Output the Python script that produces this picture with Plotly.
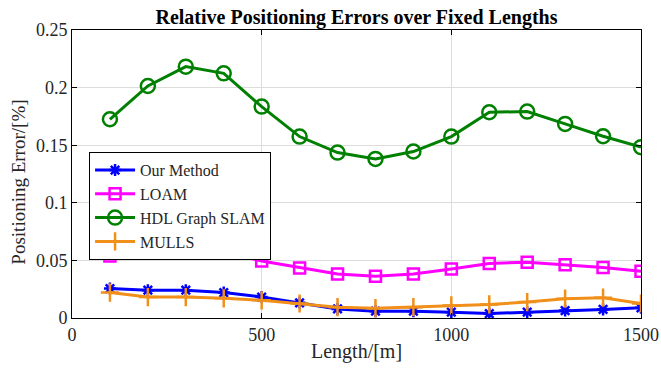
import plotly.graph_objects as go

# Data
lengths = [100, 200, 300, 400, 500, 600, 700, 800, 900, 1000, 1100, 1200, 1300, 1400, 1500]

our_method = [0.0256, 0.0241, 0.0241, 0.0221, 0.0182, 0.0132, 0.0079, 0.0059, 0.0059,
              0.0050, 0.0038, 0.0050, 0.0065, 0.0074, 0.0088]
loam = [0.0538, 0.0574, 0.0591, 0.0574, 0.0494, 0.0435, 0.0382, 0.0362, 0.0382,
        0.0426, 0.0474, 0.0485, 0.0462, 0.0438, 0.0406]
hdl_graph_slam = [0.1725, 0.2014, 0.2182, 0.2124, 0.1835, 0.1575, 0.1436, 0.1381, 0.1445,
                  0.1575, 0.1786, 0.1792, 0.1685, 0.1578, 0.1483]
mulls = [0.0221, 0.0182, 0.0182, 0.0171, 0.0153, 0.0126, 0.0094, 0.0085, 0.0094,
         0.0109, 0.0118, 0.0138, 0.0168, 0.0176, 0.0126]

x_ticks = [0, 500, 1000, 1500]
y_ticks = [0, 0.05, 0.1, 0.15, 0.2, 0.25]
y_tick_text = ["0", "0.05", "0.1", "0.15", "0.2", "0.25"]

FONT = "Liberation Serif"
TEXT_GREY = "#262626"
W, H = 661, 369

series = [
    ("Our Method", our_method, "#0000FF", "asterisk-open", 10),
    ("LOAM", loam, "#FF00FF", "square-open", 11),
    ("HDL Graph SLAM", hdl_graph_slam, "#008000", "circle-open", 14),
    ("MULLS", mulls, "#F0901A", "cross-thin-open", 13),
]

fig = go.Figure()
for name, vals, color, symbol, size in series:
    fig.add_trace(go.Scatter(
        x=lengths, y=vals, name=name, mode="lines+markers",
        line=dict(color=color, width=3),
        marker=dict(symbol=symbol, size=size, color=color,
                    line=dict(color=color, width=2.5)),
    ))

axis_common = dict(
    showline=True, linecolor="black", linewidth=1, mirror="ticks",
    ticks="inside", ticklen=5, tickcolor="black",
    showgrid=True, gridcolor="#DCDCDC", gridwidth=1,
    zeroline=False, automargin=False, ticklabeloverflow="allow",
    tickfont=dict(family=FONT, size=18, color=TEXT_GREY),
)

fig.update_layout(
    width=W, height=H,
    margin=dict(l=72, r=20, t=30, b=51),
    paper_bgcolor="white", plot_bgcolor="white",
    font=dict(family=FONT, color="black"),
    title=dict(text="<b>Relative Positioning Errors over Fixed Lengths</b>",
               xref="paper", x=0.5, xanchor="center",
               yref="container", y=1 - 17 / H, yanchor="middle",
               font=dict(family=FONT, size=20, color="black")),
    xaxis=dict(range=[0, 1500], tickvals=x_ticks, **axis_common),
    yaxis=dict(range=[0, 0.25], tickvals=y_ticks, ticktext=y_tick_text, **axis_common),
    legend=dict(x=0.030, y=0.576, xanchor="left", yanchor="top",
                bgcolor="white", bordercolor="black", borderwidth=1,
                font=dict(family=FONT, size=16, color=TEXT_GREY),
                tracegroupgap=0, itemwidth=40),
    showlegend=True,
    annotations=[
        dict(text="Length/[m]", xref="paper", yref="paper", x=0.5, y=0,
             yshift=-33, xanchor="center", yanchor="middle", showarrow=False,
             font=dict(family=FONT, size=20, color=TEXT_GREY)),
        dict(text="Positioning Error/[%]", xref="paper", yref="paper", x=0, y=0.47,
             xshift=-53, xanchor="center", yanchor="middle", showarrow=False,
             textangle=-90, font=dict(family=FONT, size=19, color=TEXT_GREY)),
    ],
)

# drop the default 8px body margin so the figure fills the window exactly
fig.write_html("out.html", config={"displayModeBar": False},
               post_script="document.body.style.margin='0';")
